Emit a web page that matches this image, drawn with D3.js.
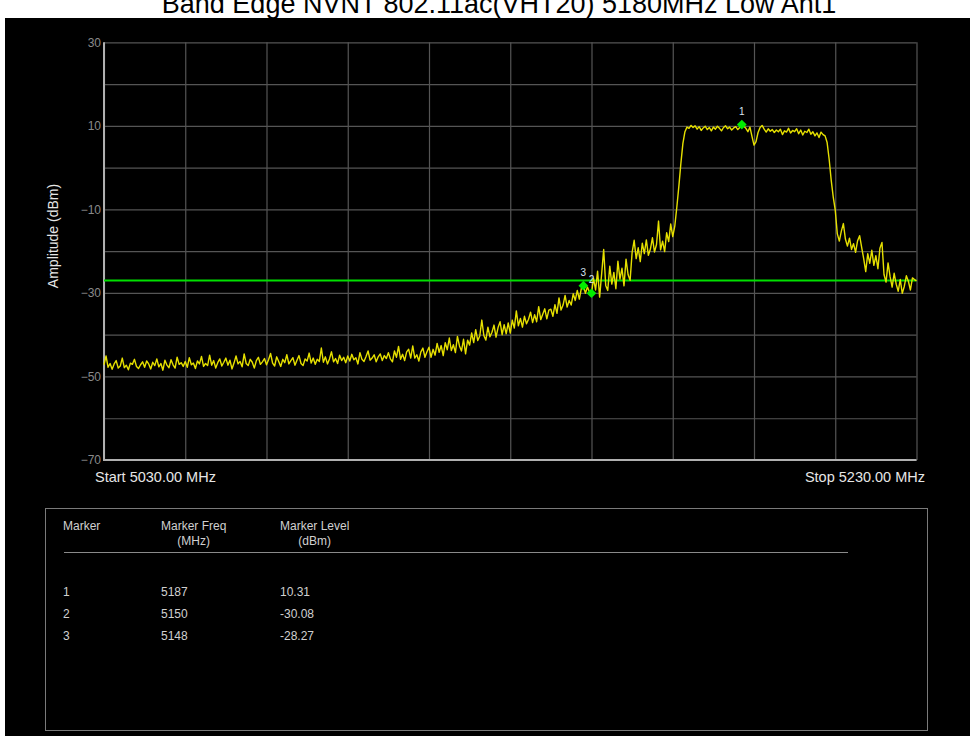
<!DOCTYPE html>
<html>
<head>
<meta charset="utf-8">
<script src="https://cdn.jsdelivr.net/npm/d3@7"></script>
<style>
  html, body { margin: 0; padding: 0; background: #ffffff; }
  svg { display: block; }
</style>
</head>
<body>
<svg id="chart" width="974" height="736"></svg>
<script>
// ---------------- DATA ----------------
const chartTitle = "Band Edge NVNT 802.11ac(VHT20) 5180MHz Low Ant1";
const startFreqMHz = 5030;
const stopFreqMHz = 5230;
const traceStepMHz = 0.5;
const yTickLabels = [30, 10, -10, -30, -50, -70];
const yGridValues = [30, 20, 10, 0, -10, -20, -30, -40, -50, -60, -70];
const xGridValues = [5030, 5050, 5070, 5090, 5110, 5130, 5150, 5170, 5190, 5210, 5230];
const limitLevel = -27;

// trace amplitude (dBm), one value every 0.5 MHz from 5030 to 5230 MHz
const traceLevels = [
  -47.2,-45.1,-47.8,-46.9,-48.3,-47.0,-46.2,-48.0,-47.5,-45.6,-47.9,-47.3,-48.4,-46.8,-47.1,-45.9,-47.6,-48.1,-47.2,-46.5,
  -47.8,-46.3,-47.0,-48.2,-46.6,-47.4,-45.8,-47.7,-46.9,-48.5,-46.1,-47.3,-47.9,-46.0,-47.2,-48.0,-45.4,-47.1,-46.7,-47.6,
  -46.4,-47.8,-45.5,-47.2,-46.8,-48.1,-46.3,-47.0,-45.2,-47.6,-46.9,-47.4,-44.9,-47.3,-46.2,-48.0,-46.7,-45.8,-47.5,-46.6,
  -45.6,-47.3,-46.1,-48.2,-46.8,-45.1,-47.0,-46.4,-47.7,-44.6,-46.9,-47.4,-45.9,-46.6,-48.0,-46.2,-45.4,-47.1,-46.5,-45.7,
  -47.2,-46.0,-44.5,-46.8,-47.5,-45.3,-46.4,-47.6,-45.9,-46.7,-44.8,-47.0,-46.2,-45.5,-47.3,-46.1,-45.0,-46.9,-47.4,-45.8,
  -46.3,-44.4,-46.8,-45.6,-47.1,-45.9,-46.4,-43.2,-46.6,-45.3,-47.0,-45.8,-44.1,-46.5,-45.7,-46.9,-44.9,-46.2,-45.4,-46.7,
  -45.1,-46.3,-44.7,-46.0,-45.5,-47.0,-44.3,-45.9,-46.4,-45.2,-43.9,-46.1,-45.6,-44.8,-46.5,-45.3,-44.6,-46.2,-45.0,-45.7,
  -44.3,-45.8,-46.5,-43.9,-45.4,-42.8,-45.9,-44.7,-46.2,-44.1,-43.5,-45.6,-42.7,-45.6,-44.8,-46.3,-44.1,-43.2,-45.4,-44.1,
  -43.0,-45.4,-43.5,-44.9,-42.1,-44.2,-42.6,-45.0,-41.9,-43.6,-40.8,-43.8,-42.4,-44.3,-40.4,-42.7,-43.9,-41.1,-44.6,-41.3,
  -42.5,-39.6,-41.9,-38.8,-41.4,-40.3,-36.5,-40.2,-41.3,-38.2,-40.5,-39.4,-37.7,-40.6,-38.3,-36.9,-40.0,-37.6,-39.8,-37.2,
  -39.6,-36.5,-38.4,-34.3,-37.9,-36.1,-38.2,-35.6,-37.4,-36.3,-34.6,-37.1,-35.2,-36.9,-33.3,-36.4,-35.1,-33.8,-36.2,-34.1,
  -33.9,-35.6,-32.8,-34.9,-31.2,-34.1,-32.9,-30.6,-33.4,-31.8,-32.9,-30.2,-31.8,-29.4,-31.5,-28.9,-28.27,-30.1,-28.6,-29.8,
  -30.08,-26.5,-29.3,-24.8,-31.0,-25.4,-19.6,-28.2,-29.4,-23.6,-27.9,-25.1,-29.0,-22.4,-26.7,-24.1,-28.3,-21.9,-25.6,-27.0,
  -20.3,-17.4,-21.8,-19.2,-22.5,-18.1,-20.6,-17.3,-21.0,-19.5,-16.8,-20.2,-18.4,-12.8,-19.7,-17.6,-20.1,-15.6,-17.7,-13.5,
  -16.5,-14.0,-9.5,-4.5,1.0,5.8,8.6,9.7,9.4,10.1,9.6,10.0,9.2,9.8,8.9,9.5,9.9,9.1,9.6,8.8,
  9.7,9.2,9.9,9.4,8.8,9.6,10.0,9.3,9.7,9.0,9.5,9.8,9.1,9.6,10.31,9.9,9.4,8.6,9.7,7.5,
  5.4,6.2,8.4,9.6,10.1,9.2,8.5,9.3,8.7,9.1,8.4,9.0,8.6,9.2,7.9,8.8,8.5,9.4,8.3,8.9,
  8.6,9.3,8.1,9.0,7.8,8.7,8.4,9.2,8.0,8.6,7.6,8.3,7.2,8.5,7.9,7.6,6.0,2.0,-3.0,-7.0,
  -10.2,-15.8,-17.6,-15.2,-13.4,-17.1,-18.8,-16.9,-19.6,-18.2,-20.3,-17.5,-16.3,-19.1,-21.8,-24.9,-20.6,-22.9,-19.8,-23.4,
  -21.1,-24.2,-19.3,-17.9,-25.6,-27.4,-22.8,-26.1,-28.6,-25.3,-27.9,-29.6,-26.8,-30.1,-28.4,-25.9,-27.2,-29.3,-26.4,-26.8,
  -27.1
];

const markerIds = ["1", "2", "3"];
const markerFreqs = [5187, 5150, 5148];
const markerLevels = [10.31, -30.08, -28.27];
const markerLevelText = ["10.31", "-30.08", "-28.27"];

const tableHeaders = [["Marker"], ["Marker Freq", "(MHz)"], ["Marker Level", "(dBm)"]];

// ---------------- DRAW ----------------
const svg = d3.select("#chart");
const W = 974, H = 736;

svg.append("text")
  .attr("x", 499).attr("y", 13)
  .attr("text-anchor", "middle")
  .attr("font-family", "Liberation Sans, Arial, sans-serif")
  .attr("font-size", 27)
  .attr("fill", "#000")
  .text(chartTitle);

svg.append("rect")
  .attr("x", 5).attr("y", 18).attr("width", 965).attr("height", H - 18)
  .attr("fill", "#000");

const plot = { left: 104, right: 916.5, top: 42.3, bottom: 460 };
const x = d3.scaleLinear().domain([startFreqMHz, stopFreqMHz]).range([plot.left, plot.right]);
const y = d3.scaleLinear().domain([-70, 30]).range([plot.bottom, plot.top]);

// grid
const grid = svg.append("g");
grid.append("g")
  .attr("transform", `translate(${plot.left},0)`)
  .call(d3.axisLeft(y).tickValues(yGridValues).tickSize(-(plot.right - plot.left)).tickFormat(""))
  .call(g => g.select(".domain").remove())
  .call(g => g.selectAll("line").attr("stroke", "#555").attr("stroke-width", 1.2));
grid.append("g")
  .attr("transform", `translate(0,${plot.bottom})`)
  .call(d3.axisBottom(x).tickValues(xGridValues).tickSize(-(plot.bottom - plot.top)).tickFormat(""))
  .call(g => g.select(".domain").remove())
  .call(g => g.selectAll("line").attr("stroke", "#555").attr("stroke-width", 1.2));

// axis lines
svg.append("line").attr("x1", plot.left).attr("x2", plot.left).attr("y1", plot.top).attr("y2", plot.bottom + 1)
  .attr("stroke", "#b0b0b0").attr("stroke-width", 2);
svg.append("line").attr("x1", plot.left - 1).attr("x2", plot.right).attr("y1", plot.bottom).attr("y2", plot.bottom)
  .attr("stroke", "#b0b0b0").attr("stroke-width", 2);

// y tick labels
const yAxis = svg.append("g")
  .attr("transform", `translate(${plot.left - 3},0)`)
  .call(d3.axisLeft(y).tickValues(yTickLabels).tickSize(0).tickPadding(0).tickFormat(d3.format("d")));
yAxis.select(".domain").remove();
yAxis.selectAll("text")
  .attr("fill", "#8a8a8a")
  .attr("font-family", "Liberation Sans Narrow, Arial Narrow, Liberation Sans, sans-serif")
  .attr("font-size", 12);

// axis titles
svg.append("text")
  .attr("transform", "translate(58,236) rotate(-90)")
  .attr("text-anchor", "middle")
  .attr("font-family", "Liberation Sans, Arial, sans-serif")
  .attr("font-size", 14)
  .attr("fill", "#e6e6e6")
  .text("Amplitude (dBm)");

svg.append("text")
  .attr("x", 95).attr("y", 482)
  .attr("font-family", "Liberation Sans, Arial, sans-serif")
  .attr("font-size", 14.5)
  .attr("fill", "#e6e6e6")
  .text(`Start ${startFreqMHz.toFixed(2)} MHz`);
svg.append("text")
  .attr("x", 925).attr("y", 482)
  .attr("text-anchor", "end")
  .attr("font-family", "Liberation Sans, Arial, sans-serif")
  .attr("font-size", 14.5)
  .attr("fill", "#e6e6e6")
  .text(`Stop ${stopFreqMHz.toFixed(2)} MHz`);

// limit line
svg.append("line")
  .attr("x1", x(startFreqMHz)).attr("x2", x(stopFreqMHz))
  .attr("y1", y(limitLevel)).attr("y2", y(limitLevel))
  .attr("stroke", "#00e000").attr("stroke-width", 2);

// trace
const line = d3.line()
  .x((d, i) => x(startFreqMHz + i * traceStepMHz))
  .y(d => y(d));
svg.append("path")
  .datum(traceLevels)
  .attr("d", line)
  .attr("fill", "none")
  .attr("stroke", "#e6e000")
  .attr("stroke-width", 1.4)
  .attr("stroke-linejoin", "round");

// markers
const mk = svg.append("g");
markerIds.forEach((id, i) => {
  const cx = x(markerFreqs[i]), cy = y(markerLevels[i]);
  mk.append("path")
    .attr("d", d3.symbol().type(d3.symbolDiamond2).size(60)())
    .attr("transform", `translate(${cx},${cy})`)
    .attr("fill", "#00ee00");
  mk.append("text")
    .attr("x", cx).attr("y", cy - 10)
    .attr("text-anchor", "middle")
    .attr("font-family", "Liberation Sans, Arial, sans-serif")
    .attr("font-size", 10)
    .attr("fill", "#d8e6f0")
    .text(id);
});

// marker table
const tbl = svg.append("g");
tbl.append("rect")
  .attr("x", 45.5).attr("y", 508.5).attr("width", 882).attr("height", 222)
  .attr("fill", "none").attr("stroke", "#7a7a7a").attr("stroke-width", 1);
tbl.append("line")
  .attr("x1", 64).attr("x2", 848).attr("y1", 552.5).attr("y2", 552.5)
  .attr("stroke", "#8a8a8a").attr("stroke-width", 1);

const colX = [63, 161, 280];
const tableFont = "Liberation Sans, Arial, sans-serif";
tbl.append("text").attr("x", colX[0]).attr("y", 530)
  .attr("font-family", tableFont).attr("font-size", 12).attr("fill", "#d0d0d0")
  .text(tableHeaders[0][0]);
[1, 2].forEach(c => {
  const t = tbl.append("text").attr("x", colX[c]).attr("y", 530)
    .attr("font-family", tableFont).attr("font-size", 12).attr("fill", "#d0d0d0")
    .text(tableHeaders[c][0]);
  const w = t.node().getComputedTextLength();
  tbl.append("text").attr("x", colX[c] + w / 2).attr("y", 545)
    .attr("text-anchor", "middle")
    .attr("font-family", tableFont).attr("font-size", 12).attr("fill", "#d0d0d0")
    .text(tableHeaders[c][1]);
});

const rowY = [596, 618, 640];
markerIds.forEach((id, i) => {
  const cells = [id, String(markerFreqs[i]), markerLevelText[i]];
  cells.forEach((txt, c) => {
    tbl.append("text").attr("x", colX[c]).attr("y", rowY[i])
      .attr("font-family", tableFont).attr("font-size", 12).attr("fill", "#d0d0d0")
      .text(txt);
  });
});
</script>
</body>
</html>
